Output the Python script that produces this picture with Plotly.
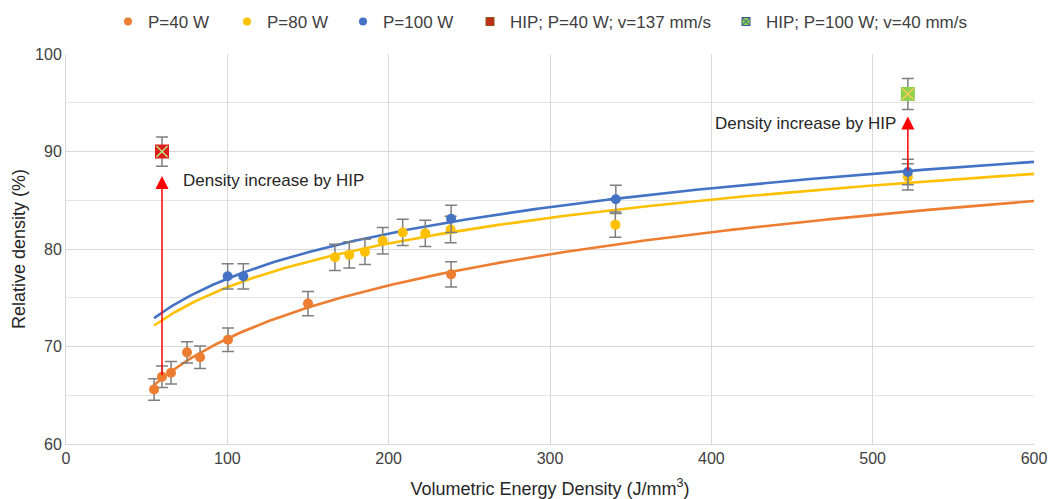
import numpy as np
import plotly.graph_objects as go

# Measured relative density vs. volumetric energy density
p40_x = [54.6, 59.5, 65.1, 75.0, 83.1, 100.4, 150.0, 238.7]
p40_y = [65.6, 66.9, 67.3, 69.4, 68.9, 70.7, 74.4, 77.4]
p40_err = [1.1, 1.1, 1.15, 1.1, 1.15, 1.2, 1.25, 1.3]

p80_x = [166.7, 175.6, 185.3, 196.3, 208.7, 222.7, 238.4, 340.5, 521.8]
p80_y = [79.15, 79.4, 79.7, 80.85, 81.7, 81.6, 82.0, 82.5, 87.4]
p80_err = [1.35, 1.35, 1.3, 1.35, 1.35, 1.35, 1.35, 1.3, 1.35]

p100_x = [100.2, 109.9, 238.7, 340.8, 521.8]
p100_y = [77.2, 77.2, 83.1, 85.1, 87.9]
p100_err = [1.3, 1.3, 1.4, 1.45, 1.3]

# Hot isostatic pressed samples
hip40_x = [59.5]
hip40_y = [90.0]
hip40_err = [1.5]
hip100_x = [521.8]
hip100_y = [95.9]
hip100_err = [1.6]

# Arrow bases (as-built) and tips (just below the HIP error bar)
arrow_x = [59.5, 521.8]
arrow_base = [66.9, 87.9]
arrow_tip = [87.5, 93.6]

names = ["P=40 W", "P=80 W", "P=100 W",
         "HIP; P=40 W; v=137 mm/s", "HIP; P=100 W; v=40 mm/s"]
note_text = "Density increase by HIP"

x_ticks = [0, 100, 200, 300, 400, 500, 600]
y_ticks = [60, 70, 80, 90, 100]

ORANGE = "#ED7D31"
YELLOW = "#FFC000"
BLUE = "#4472C4"
RED = "#E01B1B"
RED_X = "#7F5A1A"
GREEN = "#8FD14F"
GREEN_X = "#2F5597"
ERR = "#7F7F7F"
FONT = "Liberation Sans, Arial, sans-serif"

W, H = 1049, 499

fig = go.Figure()

# logarithmic trendlines fitted to each series
x_start = min(p40_x + p80_x + p100_x)
x_fit = np.linspace(x_start, x_ticks[-1], 300)
for xs, ys, col in [(p40_x, p40_y, ORANGE), (p80_x, p80_y, YELLOW), (p100_x, p100_y, BLUE)]:
    a, b = np.polyfit(np.log(xs), ys, 1)
    fig.add_trace(go.Scatter(x=x_fit, y=a * np.log(x_fit) + b, mode="lines",
                             line=dict(color=col, width=2.6), showlegend=False,
                             hoverinfo="skip"))


def err(arr):
    return dict(type="data", array=arr, color=ERR, thickness=1.5, width=6)


# measured points with error bars
for xs, ys, es, col in [(p40_x, p40_y, p40_err, ORANGE),
                        (p80_x, p80_y, p80_err, YELLOW),
                        (p100_x, p100_y, p100_err, BLUE)]:
    fig.add_trace(go.Scatter(x=xs, y=ys, mode="markers", error_y=err(es),
                             marker=dict(color=col, size=10), showlegend=False))

# HIP points: filled square with a cross drawn over it
for xs, ys, es, col, xcol in [(hip40_x, hip40_y, hip40_err, RED, RED_X),
                              (hip100_x, hip100_y, hip100_err, GREEN, GREEN_X)]:
    fig.add_trace(go.Scatter(x=xs, y=ys, mode="markers", error_y=err(es),
                             marker=dict(color=col, size=14, symbol="square"),
                             showlegend=False))
    fig.add_trace(go.Scatter(x=xs, y=ys, mode="markers",
                             marker=dict(symbol="x-thin-open", size=11,
                                         line=dict(color=xcol, width=1.5)),
                             showlegend=False))

# legend entries, each in its own legend box placed along the top row
legend_px = [128, 247, 363, 490, 746]   # centre of each legend symbol
legend_items = [(names[0], "circle", ORANGE, ORANGE),
                (names[1], "circle", YELLOW, YELLOW),
                (names[2], "circle", BLUE, BLUE),
                (names[3], "square-x", RED, RED_X),
                (names[4], "square-x", GREEN, GREEN_X)]
legend_layout = {}
for i, ((name, sym, col, lcol), px) in enumerate(zip(legend_items, legend_px)):
    key = "legend" if i == 0 else f"legend{i + 1}"
    fig.add_trace(go.Scatter(x=[None], y=[None], mode="markers", name=name,
                             legend=key,
                             marker=dict(symbol=sym, color=col, size=8,
                                         line=dict(color=lcol, width=0 if sym == "circle" else 1))))
    legend_layout[key] = dict(orientation="h", xref="container", yref="container",
                              x=(px - 20) / W, xanchor="left",
                              y=1 - 22 / H, yanchor="middle",
                              bgcolor="rgba(0,0,0,0)", borderwidth=0,
                              font=dict(family=FONT, size=17, color="#404040"))

# arrows showing the density gain
for xa, yb, yt in zip(arrow_x, arrow_base, arrow_tip):
    fig.add_annotation(x=xa, y=yt, ax=xa, ay=yb, xref="x", yref="y",
                       axref="x", ayref="y", text="", showarrow=True,
                       arrowhead=2, arrowsize=1.75, arrowwidth=1.5,
                       arrowcolor="#FF0000", standoff=0, startstandoff=0)

fig.add_annotation(x=71.3, y=87.0, xref="x", yref="y", text=note_text,
                   showarrow=False, xanchor="left", yanchor="middle",
                   font=dict(size=17, color="#262626"))
fig.add_annotation(x=515.5, y=92.9, xref="x", yref="y", text=note_text,
                   showarrow=False, xanchor="right", yanchor="middle",
                   font=dict(size=17, color="#262626"))

fig.update_layout(
    width=W, height=H,
    margin=dict(l=66, r=15, t=54, b=55, autoexpand=False),
    paper_bgcolor="white", plot_bgcolor="white",
    font=dict(family=FONT, size=16, color="#404040"),
    xaxis=dict(range=[x_ticks[0], x_ticks[-1]], tickvals=x_ticks,
               showgrid=True, gridcolor="#D9D9D9", gridwidth=1,
               zeroline=False, showline=True, linecolor="#D9D9D9", linewidth=1,
               ticks="", tickfont=dict(size=16, color="#404040"),
               title=dict(text="Volumetric Energy Density (J/mm<sup>3</sup>)",
                          font=dict(size=18, color="#262626"), standoff=18),
               automargin=False),
    yaxis=dict(range=[y_ticks[0], y_ticks[-1]], tickvals=y_ticks,
               showgrid=True, gridcolor="#D9D9D9", gridwidth=1,
               minor=dict(dtick=5, showgrid=True, gridcolor="#E4E4E4", gridwidth=1),
               zeroline=False, showline=True, linecolor="#D9D9D9", linewidth=1,
               ticks="", tickfont=dict(size=16, color="#404040"),
               title=dict(text="Relative density (%)",
                          font=dict(size=18, color="#262626"), standoff=4),
               automargin=False),
    **legend_layout,
)

fig.write_html("out.html")
